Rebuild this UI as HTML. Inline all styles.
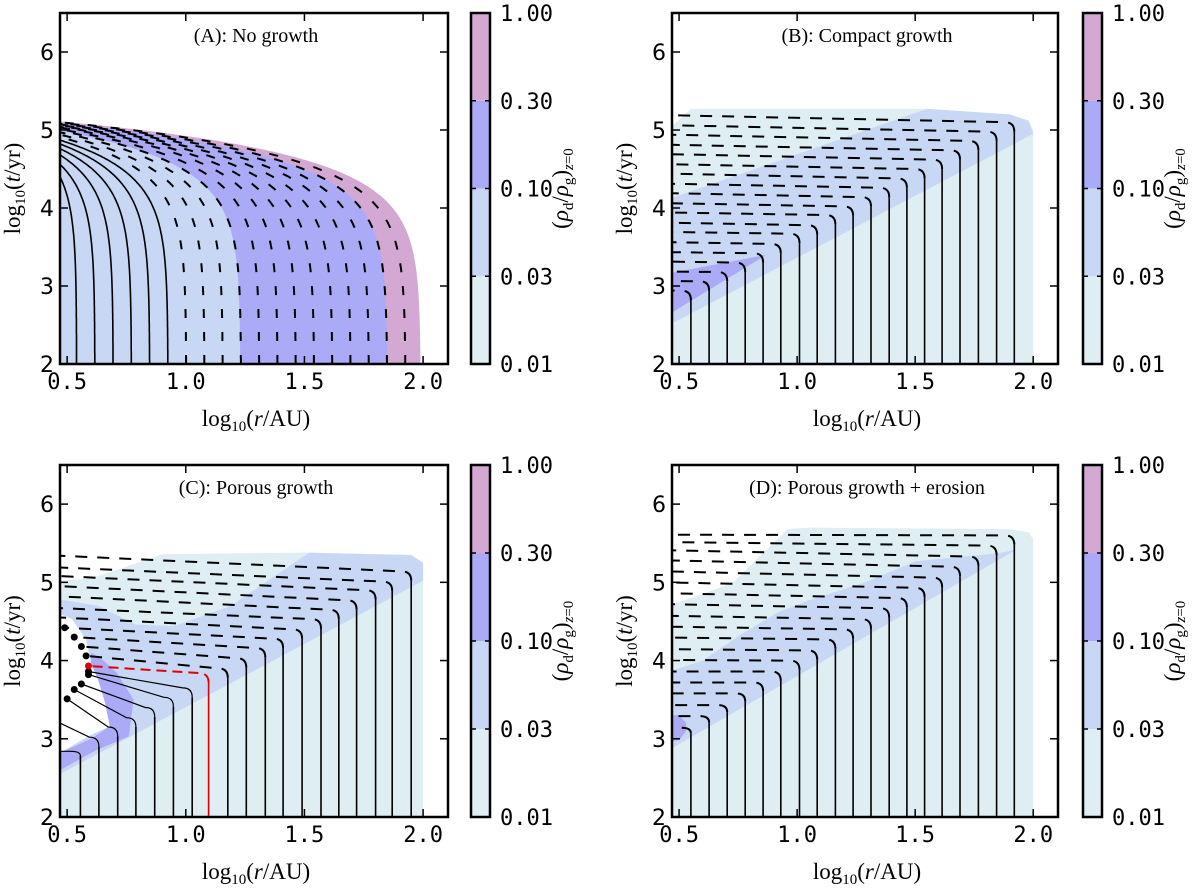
<!DOCTYPE html>
<html><head><meta charset="utf-8">
<style>
html,body{margin:0;padding:0;background:#fff;}
svg{display:block;}
.tick{font-family:"DejaVu Sans Mono","Liberation Mono",monospace;font-size:22px;fill:#000;}
.ser{font-family:"Liberation Serif",serif;fill:#000;}
</style></head>
<body>
<svg id="fig" width="1200" height="888" viewBox="0 0 1200 888" xmlns="http://www.w3.org/2000/svg"></svg>
<script>
// ---------- data ----------
const xTicks = [0.5, 1.0, 1.5, 2.0];
const xTickLabels = ["0.5", "1.0", "1.5", "2.0"];
const yTicks = [2, 3, 4, 5, 6];
const yTickLabels = ["2", "3", "4", "5", "6"];
const cbarLabels = ["0.01", "0.03", "0.10", "0.30", "1.00"];
const cbarColors = ["#deeef2", "#c8d8f4", "#aaaaf6", "#d3a9d3"];

// Panel A: trajectories (start radius, log time reaching left edge)
const radiiA = [0.54,0.617,0.694,0.771,0.848,0.925,1.002,1.079,1.156,1.233,1.31,1.387,1.464,1.541,1.618,1.695,1.772,1.849,1.926];
const crossA = [4.40,4.56,4.68,4.76,4.82,4.87,4.91,4.94,4.97,4.99,5.01,5.03,5.04,5.05,5.06,5.07,5.08,5.09,5.10];
const bandRadiiA = [1.99, 1.85, 1.23];
const bandCrossA = [5.11, 5.09, 4.99];
const bandColorIdxA = [3, 2, 1];

// Panel B
const radiiB = [0.55,0.627,0.704,0.78,0.856,0.931,1.01,1.085,1.162,1.237,1.313,1.39,1.465,1.54,1.614,1.69,1.768,1.845,1.92];
const bendB = [2.82,2.94,3.06,3.18,3.30,3.42,3.55,3.66,3.79,3.90,4.02,4.14,4.26,4.38,4.50,4.62,4.74,4.86,4.98];
const endYB = [2.95,3.07,3.19,3.32,3.44,3.57,3.70,3.82,3.95,4.07,4.20,4.32,4.45,4.57,4.70,4.82,4.95,5.07,5.20];
const cyanB = [[0.47,2],[0.47,5.05],[0.55,5.27],[1.55,5.27],[1.9,5.2],[1.98,5.12],[2.0,5.0],[2.0,2]];
const blueB = [[0.47,2.52],[0.47,4.13],[1.55,5.27],[1.9,5.2],[1.98,5.12],[2.0,4.95]];
const purpleB = [[0.47,2.66],[0.47,3.17],[0.87,3.4]];

// Panel C
const radiiC = [0.556,0.634,0.713,0.79,0.869,0.948,1.027,1.096,1.177,1.255,1.335,1.41,1.49,1.57,1.645,1.72,1.80,1.87,1.95];
const bendC = [2.78,2.90,3.03,3.15,3.28,3.41,3.53,3.72,3.78,3.91,4.04,4.16,4.28,4.41,4.53,4.65,4.78,4.89,5.02];
const endYC = [2.84,3.20,3.51,3.63,3.70,3.82,3.86,3.93,4.06,4.18,4.30,4.42,4.55,4.67,4.82,4.95,5.08,5.19,5.34];
const endXC = [0.47,0.47,0.50,0.53,0.56,0.59,0.59,0.59,0.58,0.56,0.53,0.49,0.47,0.47,0.47,0.47,0.47,0.47,0.47];
const cyanC = [[0.47,2],[0.47,5.02],[0.6,5.05],[0.75,5.2],[0.9,5.36],[1.5,5.38],[1.95,5.35],[2.0,5.25],[2.0,2]];
const blueC = [[0.47,2.55],[0.47,4.78],[0.63,4.7],[0.79,4.46],[0.95,4.44],[1.19,4.7],[1.52,5.38],[1.95,5.35],[2.0,5.25],[2.0,5.02]];
const whiteC = [[0.47,2.82],[0.6,3.05],[0.68,3.16],[0.66,3.46],[0.63,3.76],[0.6,3.97],[0.58,4.27],[0.52,4.53],[0.47,4.6]];
const purpleC = [[0.47,2.6],[0.62,2.85],[0.76,3.03],[0.78,3.5],[0.71,3.84],[0.65,4.01],[0.6,4.1],[0.6,3.97],[0.63,3.76],[0.66,3.46],[0.68,3.16],[0.6,3.0],[0.47,2.82]];

// Panel D
const radiiD = [0.55,0.627,0.704,0.78,0.856,0.931,1.01,1.085,1.162,1.237,1.313,1.39,1.465,1.54,1.614,1.69,1.768,1.845,1.92];
const bendD = [3.07,3.21,3.34,3.48,3.61,3.74,3.88,4.01,4.15,4.28,4.41,4.55,4.68,4.81,4.94,5.08,5.21,5.35,5.48];
const endYD = [3.14,3.29,3.43,3.58,3.72,3.86,4.01,4.15,4.30,4.44,4.58,4.73,4.87,5.01,5.15,5.29,5.42,5.52,5.61];
const cyanD = [[0.47,2],[0.47,4.72],[0.6,4.85],[0.73,5.0],[0.83,5.3],[0.96,5.68],[1.05,5.7],[1.9,5.68],[1.98,5.64],[2.0,5.55],[2.0,2]];
const blueD = [[0.47,2.88],[0.47,3.87],[0.6,4.0],[0.76,4.33],[0.92,4.62],[1.05,4.77],[1.29,5.0],[1.5,5.27],[1.6,5.3],[1.85,5.37],[1.93,5.42]];
const purpleD = [[0.47,2.97],[0.5,2.98],[0.53,3.1],[0.53,3.2],[0.5,3.3],[0.47,3.3]];

// ---------- drawing ----------
const NS = "http://www.w3.org/2000/svg";
const svg = document.getElementById("fig");
const X0 = 0.47, X1 = 2.105, Y0 = 2, Y1 = 6.5;
function mk(tag, parent) { const e = document.createElementNS(NS, tag); parent.appendChild(e); return e; }
function sx(p, r) { return p.L + (r - X0) / (X1 - X0) * (p.R - p.L); }
function sy(p, t) { return p.B - (t - Y0) / (Y1 - Y0) * (p.B - p.T); }
function ptsStr(p, arr) { return arr.map(a => sx(p, a[0]).toFixed(1) + "," + sy(p, a[1]).toFixed(1)).join(" "); }

const panels = [
  {id:"a", L:60, R:448, T:13, B:364, cb:471, title:"(A): No growth"},
  {id:"b", L:672, R:1058, T:13, B:364, cb:1083, title:"(B): Compact growth"},
  {id:"c", L:60, R:448, T:465, B:817, cb:471, title:"(C): Porous growth"},
  {id:"d", L:672, R:1058, T:465, B:817, cb:1083, title:"(D): Porous growth + erosion"}
];

function region(p, g, arr, color, name) {
  const poly = mk("polygon", g);
  
  
  poly.setAttribute("points", ptsStr(p, arr));
  poly.setAttribute("fill", color);
}

function curveA(p, r0, yc) {
  let d = "";
  for (let y = 2; y <= yc + 0.3; y += 0.01) {
    const x = r0 - (r0 - X0) * Math.pow(10, y - yc);
    d += (d ? " L" : "M") + sx(p, x).toFixed(1) + " " + sy(p, y).toFixed(1);
  }
  return d;
}

function growthPaths(p, r0, yb, ye, xe) {
  const vert = "M" + sx(p, r0).toFixed(1) + " " + sy(p, 2).toFixed(1) + " L" + sx(p, r0).toFixed(1) + " " + sy(p, yb).toFixed(1);
  const dy = Math.min(0.12, Math.max(0.03, ye - yb));
  const cx = r0 - 0.04;
  const hor = "M" + sx(p, r0).toFixed(1) + " " + sy(p, yb).toFixed(1) +
    " Q" + sx(p, r0).toFixed(1) + " " + sy(p, yb + dy).toFixed(1) + " " + sx(p, cx).toFixed(1) + " " + sy(p, yb + dy).toFixed(1) +
    " L" + sx(p, xe).toFixed(1) + " " + sy(p, ye).toFixed(1);
  return [vert, hor];
}

function drawLine(g, d, name, color, w, dash) {
  const path = mk("path", g);
  
  
  path.setAttribute("d", d);
  path.setAttribute("fill", "none");
  path.setAttribute("stroke", color);
  path.setAttribute("stroke-width", w);
  if (dash) path.setAttribute("stroke-dasharray", dash);
}

panels.forEach((p, pi) => {
  const g = mk("g", svg);
  
  
  const cp = mk("clipPath", g);
  cp.setAttribute("id", "clip-" + p.id);
  const cr = mk("rect", cp);
  cr.setAttribute("x", p.L); cr.setAttribute("y", p.T);
  cr.setAttribute("width", p.R - p.L); cr.setAttribute("height", p.B - p.T);
  const plot = mk("g", g);
  
  
  plot.setAttribute("clip-path", "url(#clip-" + p.id + ")");

  if (p.id === "a") {
    bandRadiiA.forEach((r0, i) => {
      const path = mk("path", plot);
      
      
      path.setAttribute("d", curveA(p, r0, bandCrossA[i]) + " L" + sx(p, 0.2) + " " + sy(p, 2) + " Z");
      path.setAttribute("fill", cbarColors[bandColorIdxA[i]]);
    });
    radiiA.forEach((r0, i) => {
      drawLine(plot, curveA(p, r0, crossA[i]), "trajectory", "#000", r0 >= 1.0 ? 2 : 1.6, r0 >= 1.0 ? "9 14" : null);
    });
  } else {
    let radii, bends, ends, endsX = null;
    if (p.id === "b") {
      region(p, plot, cyanB, cbarColors[0], "region-0.01-0.03");
      region(p, plot, blueB, cbarColors[1], "region-0.03-0.10");
      region(p, plot, purpleB, cbarColors[2], "region-0.10-0.30");
      radii = radiiB; bends = bendB; ends = endYB;
    } else if (p.id === "c") {
      region(p, plot, cyanC, cbarColors[0], "region-0.01-0.03");
      region(p, plot, blueC, cbarColors[1], "region-0.03-0.10");
      region(p, plot, whiteC, "#ffffff", "region-empty");
      region(p, plot, purpleC, cbarColors[2], "region-0.10-0.30");
      radii = radiiC; bends = bendC; ends = endYC; endsX = endXC;
    } else {
      region(p, plot, cyanD, cbarColors[0], "region-0.01-0.03");
      region(p, plot, blueD, cbarColors[1], "region-0.03-0.10");
      region(p, plot, purpleD, cbarColors[2], "region-0.10-0.30");
      radii = radiiD; bends = bendD; ends = endYD;
    }
    radii.forEach((r0, i) => {
      const xe = endsX ? endsX[i] : 0.3;
      const ps = growthPaths(p, r0, bends[i], ends[i], xe);
      const red = (p.id === "c" && i === 7);
      const col = red ? "#e00000" : "#000";
      drawLine(plot, ps[0], red ? "highlight-trajectory" : "trajectory", col, 1.6, null);
      const solid = (p.id === "c" && i <= 6);
      drawLine(plot, ps[1], red ? "highlight-trajectory-drift" : "trajectory-drift", col, solid ? 1.2 : 2, solid ? null : (red ? "10 6" : "12 10"));
      if (endsX && xe > 0.475) {
        const c = mk("circle", plot);
        
        
        c.setAttribute("cx", sx(p, xe)); c.setAttribute("cy", sy(p, ends[i]));
        c.setAttribute("r", 3.5); c.setAttribute("fill", col);
      }
    });
  }

  // frame
  const fr = mk("rect", g);
  
  
  fr.setAttribute("x", p.L); fr.setAttribute("y", p.T);
  fr.setAttribute("width", p.R - p.L); fr.setAttribute("height", p.B - p.T);
  fr.setAttribute("fill", "none"); fr.setAttribute("stroke", "#000"); fr.setAttribute("stroke-width", 2.5);

  xTicks.forEach((v, i) => {
    const x = sx(p, v);
    [[p.B, p.B - 8], [p.T, p.T + 8]].forEach(a => {
      const l = mk("line", g);
      
      
      l.setAttribute("x1", x); l.setAttribute("x2", x); l.setAttribute("y1", a[0]); l.setAttribute("y2", a[1]);
      l.setAttribute("stroke", "#000"); l.setAttribute("stroke-width", 1.5);
    });
    const t = mk("text", g);
    
    
    t.setAttribute("class", "tick");
    t.setAttribute("x", x); t.setAttribute("y", p.B + 25);
    t.setAttribute("text-anchor", "middle");
    t.textContent = xTickLabels[i];
  });
  yTicks.forEach((v, i) => {
    const y = sy(p, v);
    [[p.L, p.L + 8], [p.R, p.R - 8]].forEach(a => {
      const l = mk("line", g);
      
      
      l.setAttribute("x1", a[0]); l.setAttribute("x2", a[1]); l.setAttribute("y1", y); l.setAttribute("y2", y);
      l.setAttribute("stroke", "#000"); l.setAttribute("stroke-width", 1.5);
    });
    const t = mk("text", g);
    
    
    t.setAttribute("class", "tick");
    t.setAttribute("style", "font-family:'DejaVu Sans',sans-serif;font-size:22px");
    t.setAttribute("x", p.L - 6); t.setAttribute("y", y + 8);
    t.setAttribute("text-anchor", "end");
    t.textContent = yTickLabels[i];
  });

  // title
  const tt = mk("text", g);
  
  
  tt.setAttribute("class", "ser");
  tt.setAttribute("x", (p.L + p.R) / 2 + 2); tt.setAttribute("y", p.T + 29);
  tt.setAttribute("text-anchor", "middle");
  tt.setAttribute("font-size", "20");
  tt.textContent = p.title;

  // axis labels
  const xl = mk("text", g);
  
  
  xl.setAttribute("class", "ser");
  xl.setAttribute("x", (p.L + p.R) / 2 + 2); xl.setAttribute("y", p.B + 62);
  xl.setAttribute("text-anchor", "middle");
  xl.setAttribute("font-size", "23");
  xl.innerHTML = 'log<tspan font-size="15" dy="5">10</tspan><tspan dy="-5">(</tspan><tspan font-style="italic">r</tspan>/AU)';
  const yl = mk("text", g);
  
  
  yl.setAttribute("class", "ser");
  const yc = (p.T + p.B) / 2;
  yl.setAttribute("transform", "translate(" + (p.L - 40) + "," + yc + ") rotate(-90)");
  yl.setAttribute("text-anchor", "middle");
  yl.setAttribute("font-size", "23");
  yl.innerHTML = 'log<tspan font-size="15" dy="5">10</tspan><tspan dy="-5">(</tspan><tspan font-style="italic">t</tspan>/yr)';

  // colorbar
  const cbg = mk("g", g);
  
  
  const segH = (p.B - p.T) / cbarColors.length;
  cbarColors.forEach((c, i) => {
    const r = mk("rect", cbg);
    
    
    r.setAttribute("x", p.cb); r.setAttribute("y", p.B - (i + 1) * segH);
    r.setAttribute("width", 19); r.setAttribute("height", segH);
    r.setAttribute("fill", c);
  });
  const cbf = mk("rect", cbg);
  
  
  cbf.setAttribute("x", p.cb); cbf.setAttribute("y", p.T);
  cbf.setAttribute("width", 19); cbf.setAttribute("height", p.B - p.T);
  cbf.setAttribute("fill", "none"); cbf.setAttribute("stroke", "#000"); cbf.setAttribute("stroke-width", 2.5);
  cbarLabels.forEach((lab, i) => {
    const y = p.B - i * segH;
    [[p.cb, p.cb + 5], [p.cb + 19, p.cb + 14]].forEach(a => {
      const l = mk("line", cbg);
      
      
      l.setAttribute("x1", a[0]); l.setAttribute("x2", a[1]); l.setAttribute("y1", y); l.setAttribute("y2", y);
      l.setAttribute("stroke", "#000"); l.setAttribute("stroke-width", 1.5);
    });
    const t = mk("text", cbg);
    
    
    t.setAttribute("class", "tick");
    t.setAttribute("x", p.cb + 29); t.setAttribute("y", y + 8);
    t.textContent = lab;
  });
  const cl = mk("text", cbg);
  
  
  cl.setAttribute("class", "ser");
  cl.setAttribute("transform", "translate(" + (p.cb + 97) + "," + yc + ") rotate(-90)");
  cl.setAttribute("text-anchor", "middle");
  cl.setAttribute("font-size", "23");
  cl.innerHTML = '(<tspan font-style="italic">ρ</tspan><tspan font-size="15" dy="5">d</tspan><tspan dy="-5">/</tspan><tspan font-style="italic">ρ</tspan><tspan font-size="15" dy="5">g</tspan><tspan dy="-5">)</tspan><tspan font-size="15" dy="5" font-style="italic">z</tspan><tspan font-size="15">=0</tspan>';
});
</script>
</body></html>
